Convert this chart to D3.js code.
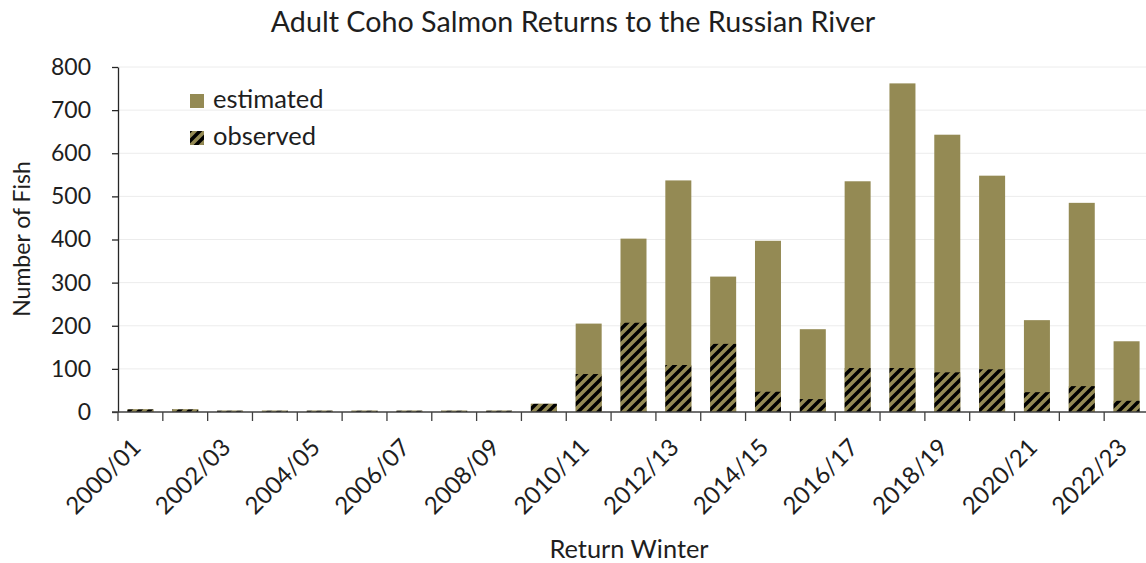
<!DOCTYPE html>
<meta charset="utf-8">
<head>
  <title>Adult Coho Salmon Returns to the Russian River</title>
</head>
<style>
  html, body {
    margin: 0;
    padding: 0;
    background: #fff;
    overflow: hidden;
  }
  svg text {
    font-family: Lato, "Open Sans", sans-serif;
    fill: #1e1e1e;
  }
</style>
<body>
<svg id="chart" width="1146" height="563"></svg>
<script src="https://d3js.org/d3.v7.min.js"></script>
<script>
var categories = [
  '2000/01', '2001/02', '2002/03', '2003/04', '2004/05', '2005/06',
  '2006/07', '2007/08', '2008/09', '2009/10', '2010/11', '2011/12',
  '2012/13', '2013/14', '2014/15', '2015/16', '2016/17', '2017/18',
  '2018/19', '2019/20', '2020/21', '2021/22', '2022/23'
];

// total estimated return (whole bar)
var estimated = [6, 6, 3, 3, 3, 3, 3, 3, 3, 19, 205, 402, 537, 314, 397, 192, 535, 762, 643, 548, 213, 485, 164];
// observed fish (hatched part at the bottom)
var observed = [6, 6, 3, 3, 3, 3, 3, 3, 3, 19, 88, 207, 109, 158, 47, 30, 102, 102, 92, 99, 46, 60, 26];

var yTicks = [0, 100, 200, 300, 400, 500, 600, 700, 800];
var tickLabels = categories.filter(function(c, i) { return i % 2 == 0 });

var olive = '#948a54';

var svg = d3.select('#chart');

var plotLeft = 118, plotRight = 1149, plotTop = 67, plotBottom = 412;

var x = d3.scaleBand()
  .domain(categories)
  .range([plotLeft, plotRight])
  .paddingInner(0.42)
  .paddingOuter(0.21);

var y = d3.scaleLinear()
  .domain([0, 800])
  .range([plotBottom, plotTop]);

// hatch for observed
var defs = svg.append('defs');
var pat = defs.append('pattern')
  .attr('id', 'hatch')
  .attr('patternUnits', 'userSpaceOnUse')
  .attr('width', 10)
  .attr('height', 10);
pat.append('rect').attr('width', 10).attr('height', 10).attr('fill', olive);
pat.append('path')
  .attr('d', 'M0,10 L10,0 M-5,5 L5,-5 M5,15 L15,5')
  .attr('stroke', '#000')
  .attr('stroke-width', 3.5);

// gridlines
svg.append('g')
  .selectAll('line')
  .data(yTicks.slice(1))
  .enter().append('line')
  .attr('x1', plotLeft).attr('x2', plotRight)
  .attr('y1', function(d) { return y(d) }).attr('y2', function(d) { return y(d) })
  .attr('stroke', '#ececec')
  .attr('stroke-width', 1);

// bars
svg.append('g')
  .selectAll('rect')
  .data(estimated)
  .enter().append('rect')
  .attr('x', function(d, i) { return x(categories[i]) })
  .attr('width', x.bandwidth())
  .attr('y', function(d) { return y(d) })
  .attr('height', function(d) { return y(0) - y(d) })
  .attr('fill', olive);

svg.append('g')
  .selectAll('rect')
  .data(observed)
  .enter().append('rect')
  .attr('x', function(d, i) { return x(categories[i]) })
  .attr('width', x.bandwidth())
  .attr('y', function(d) { return y(d) })
  .attr('height', function(d) { return y(0) - y(d) })
  .attr('fill', 'url(#hatch)');

// y axis
var yAxis = svg.append('g')
  .attr('transform', 'translate(' + plotLeft + ',0)')
  .call(d3.axisLeft(y).tickValues(yTicks).tickSize(6).tickPadding(21).tickSizeOuter(0));
yAxis.select('.domain').attr('stroke', '#262626').attr('stroke-width', 1.3);
yAxis.selectAll('.tick line').attr('stroke', '#262626').attr('stroke-width', 1.3);
yAxis.selectAll('.tick text')
  .attr('font-size', 23)
  .attr('font-family', 'Lato, sans-serif')
  .attr('fill', '#1e1e1e');

// x axis line and category boundary ticks
var step = x.step();
var bounds = categories.map(function(c) { return x(c) + x.bandwidth() / 2 - step / 2 });
bounds.push(plotRight);

var xg = svg.append('g');
xg.append('line')
  .attr('x1', plotLeft - 6).attr('x2', plotRight)
  .attr('y1', plotBottom).attr('y2', plotBottom)
  .attr('stroke', '#404040')
  .attr('stroke-width', 1.5);
xg.selectAll('line.tk')
  .data(bounds)
  .enter().append('line')
  .attr('class', 'tk')
  .attr('x1', function(d) { return d }).attr('x2', function(d) { return d })
  .attr('y1', plotBottom).attr('y2', plotBottom + 9)
  .attr('stroke', '#404040')
  .attr('stroke-width', 1.3);

xg.selectAll('text')
  .data(tickLabels)
  .enter().append('text')
  .attr('transform', function(d) {
    return 'translate(' + (x(d) + x.bandwidth() / 2 + 2) + ',' + (plotBottom + 37) + ') rotate(-45)';
  })
  .attr('text-anchor', 'end')
  .attr('font-size', 24)
  .text(function(d) { return d });

// titles
svg.append('text')
  .attr('x', 573)
  .attr('y', 32)
  .attr('text-anchor', 'middle')
  .attr('font-size', 28.7)
  .text('Adult Coho Salmon Returns to the Russian River');

svg.append('text')
  .attr('x', 629)
  .attr('y', 558)
  .attr('text-anchor', 'middle')
  .attr('font-size', 25.4)
  .text('Return Winter');

svg.append('text')
  .attr('transform', 'translate(30,239) rotate(-90)')
  .attr('text-anchor', 'middle')
  .attr('font-size', 23)
  .text('Number of Fish');

// legend
var legend = svg.append('g');
var legendItems = [
  {label: 'estimated', fill: olive},
  {label: 'observed', fill: 'url(#hatch)'}
];
var li = legend.selectAll('g')
  .data(legendItems)
  .enter().append('g')
  .attr('transform', function(d, i) { return 'translate(190,' + (94 + i * 37) + ')' });
li.append('rect')
  .attr('width', 14).attr('height', 14)
  .attr('fill', function(d) { return d.fill });
li.append('text')
  .attr('x', 23)
  .attr('y', 14)
  .attr('font-size', 25.5)
  .text(function(d) { return d.label });
</script>
</body>
